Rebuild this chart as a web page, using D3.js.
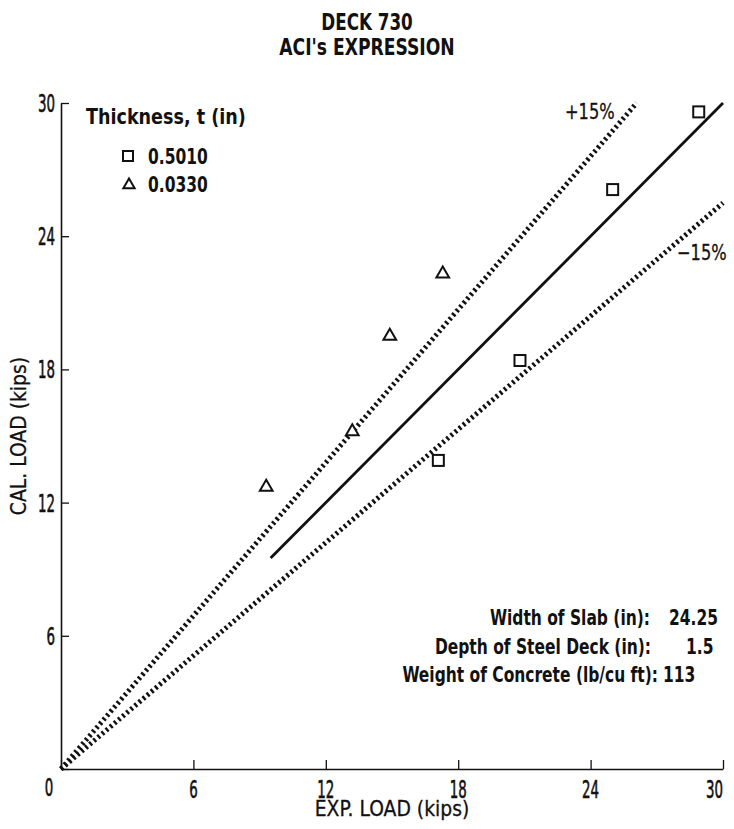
<!DOCTYPE html>
<html>
<head>
<meta charset="utf-8">
<script src="https://cdn.jsdelivr.net/npm/d3@7"></script>
<style>
  body { margin: 0; background: #fff; }
  text { font-family: "DejaVu Sans Condensed", "DejaVu Sans", sans-serif; fill: #111; }
</style>
</head>
<body>
<div id="chart"></div>
<script>
const squareExp = [28.9, 25.0, 20.8, 17.1]
const squareCal = [29.6, 26.1, 18.4, 13.9]
const triExp = [9.3, 13.2, 14.9, 17.3]
const triCal = [12.7, 15.2, 19.5, 22.3]

const ticks = [0, 6, 12, 18, 24, 30]
const bandFactors = [1.15, 0.85]
const bandLabels = ["+15%", "\u221215%"]
const fitRange = [9.5, 30]

const legendTitle = "Thickness, t (in)"
const legendLabels = ["0.5010", "0.0330"]
const noteLabels = ["Width of Slab (in):", "Depth of Steel Deck (in):", "Weight of Concrete (lb/cu ft):"]
const noteValues = ["24.25", "1.5", "113"]

const width = 734, height = 829
const margin = {top: 103, right: 11, bottom: 60, left: 61}

const svg = d3.select("#chart").append("svg")
    .attr("width", width)
    .attr("height", height)

const x = d3.scaleLinear().domain([0, 30]).range([margin.left, width - margin.right])
const y = d3.scaleLinear().domain([0, 30]).range([height - margin.bottom, margin.top])

// condensed text: squeeze horizontally around the anchor point
function txt(px, py, s, {size = 20, weight = "normal", anchor = "start", sx = 0.85, rotate = 0, thick = 0} = {}) {
  return svg.append("text")
      .attr("transform", `translate(${px},${py}) rotate(${rotate}) scale(${sx},1)`)
      .attr("text-anchor", anchor)
      .attr("font-size", size)
      .attr("font-weight", weight)
      .attr("stroke", thick ? "#111" : null)
      .attr("stroke-width", thick || null)
      .text(s)
}

// title
txt(width / 2, 30, "DECK 730", {size: 23, weight: "bold", anchor: "middle", sx: 0.81})
txt(width / 2, 55, "ACI's EXPRESSION", {size: 23, weight: "bold", anchor: "middle", sx: 0.83})

// axes
const yAxis = svg.append("g")
    .attr("transform", `translate(${margin.left},0)`)
    .call(d3.axisLeft(y).tickValues(ticks).tickSizeInner(-8).tickSizeOuter(0).tickFormat(""))
const xAxis = svg.append("g")
    .attr("transform", `translate(0,${height - margin.bottom})`)
    .call(d3.axisBottom(x).tickValues(ticks).tickSizeInner(-9).tickSizeOuter(0).tickFormat(""))

for (const g of [xAxis, yAxis]) {
  g.select(".domain").attr("stroke", "#111").attr("stroke-width", 1.6)
  g.selectAll(".tick line").attr("stroke", "#111").attr("stroke-width", 1.3)
}

ticks.filter(d => d > 0).forEach(d => {
  txt(x(0) - 6, y(d) + 9, d, {size: 24, anchor: "end", sx: 0.62, thick: 0.6})
  txt(x(d), y(0) + 29, d, {size: 24, anchor: d === 30 ? "end" : "middle", sx: 0.62, thick: 0.6})
})
txt(x(0) - 12, y(0) + 27, "0", {size: 24, anchor: "middle", sx: 0.62, thick: 0.6})

txt((x(0) + x(30)) / 2, height - 13, "EXP. LOAD (kips)", {size: 22, anchor: "middle", sx: 0.95, thick: 0.3})
txt(26, (y(0) + y(30)) / 2, "CAL. LOAD (kips)", {size: 22, anchor: "middle", sx: 0.95, rotate: -90, thick: 0.3})

// +/-15% bands
bandFactors.forEach(f => {
  const xe = Math.min(30, 30 / f)
  svg.append("line")
      .attr("x1", x(0)).attr("y1", y(0))
      .attr("x2", x(xe)).attr("y2", y(xe * f))
      .attr("stroke", "#111")
      .attr("stroke-width", 5)
      .attr("stroke-dasharray", "2.4 3")
})

txt(565, 119, bandLabels[0], {size: 22, sx: 0.82, thick: 0.3})
txt(677, 260, bandLabels[1], {size: 22, sx: 0.82, thick: 0.3})

// fitted line
svg.append("line")
    .attr("x1", x(fitRange[0])).attr("y1", y(fitRange[0]))
    .attr("x2", x(fitRange[1])).attr("y2", y(fitRange[1]))
    .attr("stroke", "#111")
    .attr("stroke-width", 2.8)

// markers
const sq = 11
svg.append("g").selectAll("rect")
  .data(squareExp.map((d, i) => [d, squareCal[i]]))
  .join("rect")
    .attr("x", d => x(d[0]) - sq / 2)
    .attr("y", d => y(d[1]) - sq / 2)
    .attr("width", sq).attr("height", sq)
    .attr("fill", "#fff")
    .attr("stroke", "#111")
    .attr("stroke-width", 2)

const tri = d3.symbol(d3.symbolTriangle, 70)
svg.append("g").selectAll("path")
  .data(triExp.map((d, i) => [d, triCal[i]]))
  .join("path")
    .attr("d", tri)
    .attr("transform", d => `translate(${x(d[0])},${y(d[1])})`)
    .attr("fill", "#fff")
    .attr("stroke", "#111")
    .attr("stroke-width", 2)

// legend
txt(86, 124, legendTitle, {size: 21, weight: "bold", sx: 0.93})
svg.append("rect")
    .attr("x", 128 - 5).attr("y", 156 - 5)
    .attr("width", 10).attr("height", 10)
    .attr("fill", "none").attr("stroke", "#111").attr("stroke-width", 2)
svg.append("path")
    .attr("d", d3.symbol(d3.symbolTriangle, 55))
    .attr("transform", "translate(129,185)")
    .attr("fill", "none").attr("stroke", "#111").attr("stroke-width", 2)
legendLabels.forEach((t, i) => {
  txt(148, 164 + i * 28, t, {size: 21, weight: "bold", sx: 0.82})
})

// slab notes
const noteEnds = [650, 651, 658]
const noteStarts = [669, 686, 663]
noteLabels.forEach((t, i) => {
  txt(noteEnds[i], 625 + i * 28.5, t, {size: 21, weight: "bold", anchor: "end", sx: 0.82})
  txt(noteStarts[i], 625 + i * 28.5, noteValues[i], {size: 21, weight: "bold", sx: 0.82})
})
</script>
</body>
</html>
